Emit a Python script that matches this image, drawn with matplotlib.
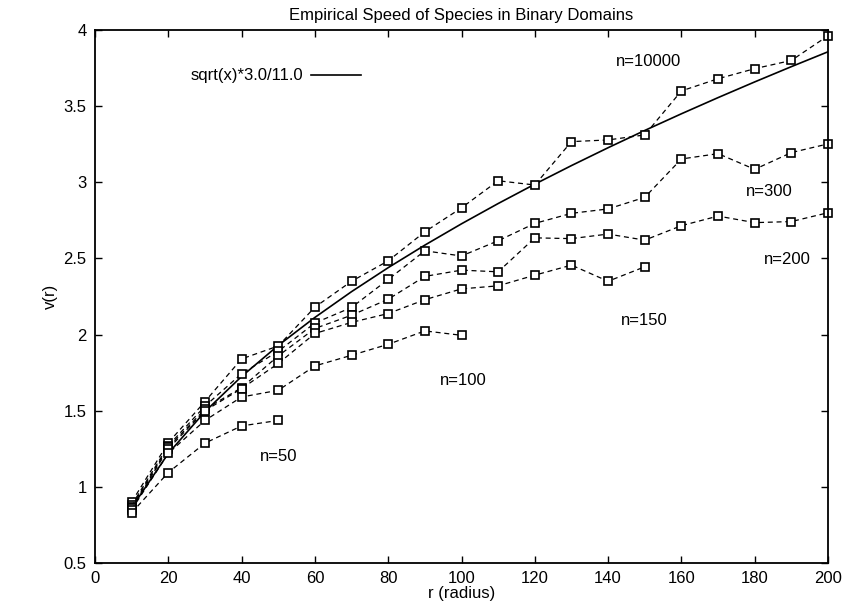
import matplotlib
matplotlib.use('Agg')
import numpy as np
import matplotlib.pyplot as plt
from matplotlib.ticker import MultipleLocator

plt.rcParams['font.family'] = ['Liberation Sans', 'DejaVu Sans']

# radius values (x axis)
radius = [10, 20, 30, 40, 50, 60, 70, 80, 90, 100,
          110, 120, 130, 140, 150, 160, 170, 180, 190, 200]

v_10000 = [0.90, 1.29, 1.56, 1.84, 1.925, 2.18, 2.35, 2.484, 2.675, 2.832,
           3.01, 2.982, 3.267, 3.278, 3.311, 3.60, 3.68, 3.746, 3.80, 3.962]
v_300 = [0.88, 1.27, 1.53, 1.743, 1.89, 2.076, 2.178, 2.362, 2.55, 2.516,
         2.616, 2.73, 2.796, 2.825, 2.901, 3.153, 3.188, 3.085, 3.195, 3.252]
v_200 = [0.87, 1.26, 1.51, 1.651, 1.86, 2.04, 2.127, 2.232, 2.382, 2.423,
         2.412, 2.635, 2.63, 2.66, 2.62, 2.715, 2.778, 2.735, 2.742, 2.80]
v_150 = [0.86, 1.25, 1.50, 1.645, 1.81, 2.007, 2.08, 2.138, 2.229, 2.30,
         2.32, 2.39, 2.456, 2.35, 2.445]
v_100 = [0.85, 1.22, 1.436, 1.59, 1.634, 1.794, 1.864, 1.936, 2.024, 1.995]
v_50 = [0.83, 1.094, 1.287, 1.40, 1.436]

series = [v_10000, v_300, v_200, v_150, v_100, v_50]

# label text and where it sits (data coords)
labels = ['n=10000', 'n=300', 'n=200', 'n=150', 'n=100', 'n=50']
label_r = [151, 184, 189, 150, 100.5, 50]
label_v = [3.79, 2.94, 2.49, 2.095, 1.70, 1.20]

fs = 12

fig = plt.figure(figsize=(8.43, 6.06), dpi=100)
ax = fig.add_axes([0.1127, 0.0710, 0.8695, 0.8795])

# fitted curve sqrt(x)*3.0/11.0
r_arr = np.array(radius, dtype=float)
fit, = ax.plot(r_arr, np.sqrt(r_arr) * 3.0 / 11.0, color='black', lw=1.2)

for vals in series:
    ax.plot(radius[:len(vals)], vals, color='black', lw=0.9,
            linestyle=(0, (4, 3)), marker='s', markersize=6,
            markerfacecolor='white', markeredgecolor='black',
            markeredgewidth=1.2, clip_on=False)

for txt, lr, lv in zip(labels, label_r, label_v):
    ax.text(lr, lv, txt, ha='center', va='center', fontsize=fs)

ax.set_xlim(0, 200)
ax.set_ylim(0.5, 4)
ax.xaxis.set_major_locator(MultipleLocator(20))
ax.yaxis.set_major_locator(MultipleLocator(0.5))
ax.yaxis.set_major_formatter(plt.FuncFormatter(lambda y, p: ('%g' % y)))
ax.tick_params(direction='in', length=5, width=1, labelsize=fs,
               top=True, right=True, pad=6)
for s in ax.spines.values():
    s.set_linewidth(1.3)

ax.set_title('Empirical Speed of Species in Binary Domains', fontsize=fs, pad=7)
ax.set_xlabel('r (radius)', fontsize=fs, labelpad=0)
ax.set_ylabel('v(r)', fontsize=fs)
ax.yaxis.set_label_coords(-0.05, 0.5)

leg = ax.legend([fit], ['sqrt(x)*3.0/11.0'], loc='center',
                bbox_to_anchor=(0.327, 0.8746), bbox_transform=fig.transFigure,
                frameon=False, markerfirst=False, handlelength=3.0,
                fontsize=fs, handletextpad=0.5)

fig.savefig('out.png', dpi=100)
